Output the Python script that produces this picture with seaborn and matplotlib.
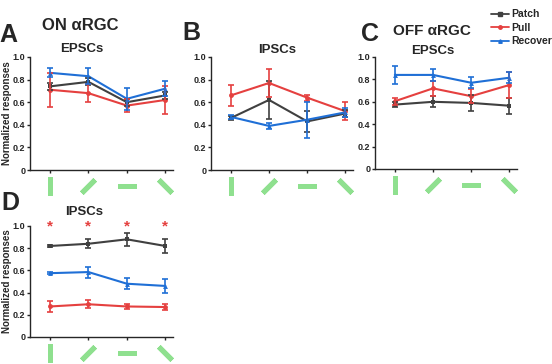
import numpy as np
import pandas as pd
import matplotlib
matplotlib.use("Agg")
import matplotlib.pyplot as plt
import seaborn as sns

# stimulus orientations (drawn as green bars below each panel)
orientations = ["vertical", "right", "horizontal", "left"]
conditions = ["Patch", "Pull", "Recover"]

# panel A: ON aRGC EPSCs
on_epsc_patch = [0.74, 0.78, 0.60, 0.66]
on_epsc_patch_err = [0.03, 0.03, 0.03, 0.03]
on_epsc_pull = [0.71, 0.68, 0.57, 0.62]
on_epsc_pull_err = [0.15, 0.08, 0.06, 0.12]
on_epsc_recover = [0.86, 0.83, 0.63, 0.72]
on_epsc_recover_err = [0.04, 0.07, 0.10, 0.065]

# panel B: ON aRGC IPSCs
on_ipsc_patch = [0.46, 0.62, 0.43, 0.50]
on_ipsc_patch_err = [0.02, 0.165, 0.09, 0.03]
on_ipsc_pull = [0.66, 0.77, 0.64, 0.52]
on_ipsc_pull_err = [0.09, 0.12, 0.025, 0.08]
on_ipsc_recover = [0.47, 0.39, 0.445, 0.51]
on_ipsc_recover_err = [0.02, 0.03, 0.16, 0.04]

# panel C: OFF aRGC EPSCs
off_epsc_patch = [0.575, 0.60, 0.59, 0.565]
off_epsc_patch_err = [0.02, 0.05, 0.07, 0.07]
off_epsc_pull = [0.605, 0.72, 0.65, 0.75]
off_epsc_pull_err = [0.03, 0.07, 0.06, 0.12]
off_epsc_recover = [0.84, 0.84, 0.77, 0.815]
off_epsc_recover_err = [0.08, 0.05, 0.05, 0.05]

# panel D: OFF aRGC IPSCs
off_ipsc_patch = [0.82, 0.84, 0.88, 0.82]
off_ipsc_patch_err = [0.01, 0.04, 0.06, 0.06]
off_ipsc_pull = [0.275, 0.295, 0.275, 0.27]
off_ipsc_pull_err = [0.05, 0.035, 0.02, 0.03]
off_ipsc_recover = [0.575, 0.585, 0.48, 0.46]
off_ipsc_recover_err = [0.01, 0.05, 0.05, 0.06]

colors = {"Patch": "#404040", "Pull": "#e5403f", "Recover": "#1f6fd6"}
markers = {"Patch": "s", "Pull": "o", "Recover": "^"}
green = "#8fe08f"

sns.set_style("ticks")
plt.rcParams["font.family"] = ["Liberation Sans", "DejaVu Sans"]
plt.rcParams["font.weight"] = "bold"

W, H = 552, 364
fig = plt.figure(figsize=(W / 100, H / 100), dpi=100)


def px_axes(left, top, right, bottom):
    return fig.add_axes([left / W, (H - bottom) / H, (right - left) / W, (bottom - top) / H])


def draw_panel(ax, means, errs):
    rows = []
    for cond in conditions:
        for i, o in enumerate(orientations):
            rows.append({"pos": i, "orient": o, "cond": cond, "value": means[cond][i]})
    df = pd.DataFrame(rows)
    sns.lineplot(data=df, x="pos", y="value", hue="cond", style="cond",
                 palette=colors, markers=markers, dashes=False, ax=ax,
                 linewidth=1.5, markersize=3.5, markeredgewidth=0, legend=False)
    for cond in conditions:
        ax.errorbar(range(4), means[cond], yerr=errs[cond], fmt="none",
                    ecolor=colors[cond], elinewidth=1.2, capsize=2.2, capthick=1.2)
    ax.set_xlim(-0.52, 3.2)
    ax.set_ylim(0, 1.0)
    ax.set_xticks(range(4))
    ax.set_xticklabels([])
    ax.set_yticks([0, 0.2, 0.4, 0.6, 0.8, 1.0])
    ax.set_yticklabels(["0", "0.2", "0.4", "0.6", "0.8", "1.0"], fontweight="bold")
    ax.tick_params(axis="both", length=2.5, width=1, labelsize=6.5, pad=1)
    ax.set_xlabel("")
    ax.set_ylabel("")
    for s in ["left", "bottom"]:
        ax.spines[s].set_linewidth(1)
    sns.despine(ax=ax)
    # orientation icons
    tr = ax.get_xaxis_transform()
    angles = [0, -45, 90, 45]
    for i, a in enumerate(angles):
        ax.plot(i, -0.14, marker=(2, 2, a), markersize=13.5,
                markeredgewidth=3.6, color=green, transform=tr, clip_on=False)


ax_a = px_axes(30, 57, 173, 170)
draw_panel(ax_a,
           {"Patch": on_epsc_patch, "Pull": on_epsc_pull, "Recover": on_epsc_recover},
           {"Patch": on_epsc_patch_err, "Pull": on_epsc_pull_err, "Recover": on_epsc_recover_err})
ax_b = px_axes(211, 57, 353, 170)
draw_panel(ax_b,
           {"Patch": on_ipsc_patch, "Pull": on_ipsc_pull, "Recover": on_ipsc_recover},
           {"Patch": on_ipsc_patch_err, "Pull": on_ipsc_pull_err, "Recover": on_ipsc_recover_err})
ax_c = px_axes(375, 57, 517, 169)
draw_panel(ax_c,
           {"Patch": off_epsc_patch, "Pull": off_epsc_pull, "Recover": off_epsc_recover},
           {"Patch": off_epsc_patch_err, "Pull": off_epsc_pull_err, "Recover": off_epsc_recover_err})
ax_d = px_axes(30, 226, 173, 337)
draw_panel(ax_d,
           {"Patch": off_ipsc_patch, "Pull": off_ipsc_pull, "Recover": off_ipsc_recover},
           {"Patch": off_ipsc_patch_err, "Pull": off_ipsc_pull_err, "Recover": off_ipsc_recover_err})

for i in range(4):
    ax_d.text(i, 1.0, "*", color="#e5403f", fontsize=11, ha="center", va="center",
              clip_on=False)

for ax in (ax_a, ax_d):
    ax.set_ylabel("Normalized responses", fontsize=7, fontweight="bold")
    ax.yaxis.set_label_coords(-0.125, 0.5)

# panel letters and titles
def ftext(x, y, s, size, ha="left"):
    fig.text(x / W, 1 - y / H, s, fontsize=size, fontweight="bold", ha=ha, va="center")

ftext(-1, 35, "A", 18)
ftext(42, 25, "ON αRGC", 12)
ftext(82, 49, "EPSCs", 9.5, ha="center")
ftext(182, 33, "B", 18)
ftext(277, 50, "IPSCs", 9.5, ha="center")
ftext(361, 34, "C", 18)
ftext(393, 31, "OFF αRGC", 11)
ftext(433, 51, "EPSCs", 9.5, ha="center")
ftext(1, 203, "D", 18)
ftext(84, 212, "IPSCs", 9.5, ha="center")

# legend
handles = [plt.Line2D([], [], color=colors[c], marker=markers[c], markersize=2.5,
                      linewidth=1.3) for c in conditions]
fig.legend(handles, conditions, loc="upper left", bbox_to_anchor=(486 / W, 1 - 4 / H),
           frameon=False, handlelength=1.7, handletextpad=0.25,
           labelspacing=0.35, borderpad=0, prop={"weight": "bold", "size": 7.5})

fig.savefig("out.png", dpi=100)
